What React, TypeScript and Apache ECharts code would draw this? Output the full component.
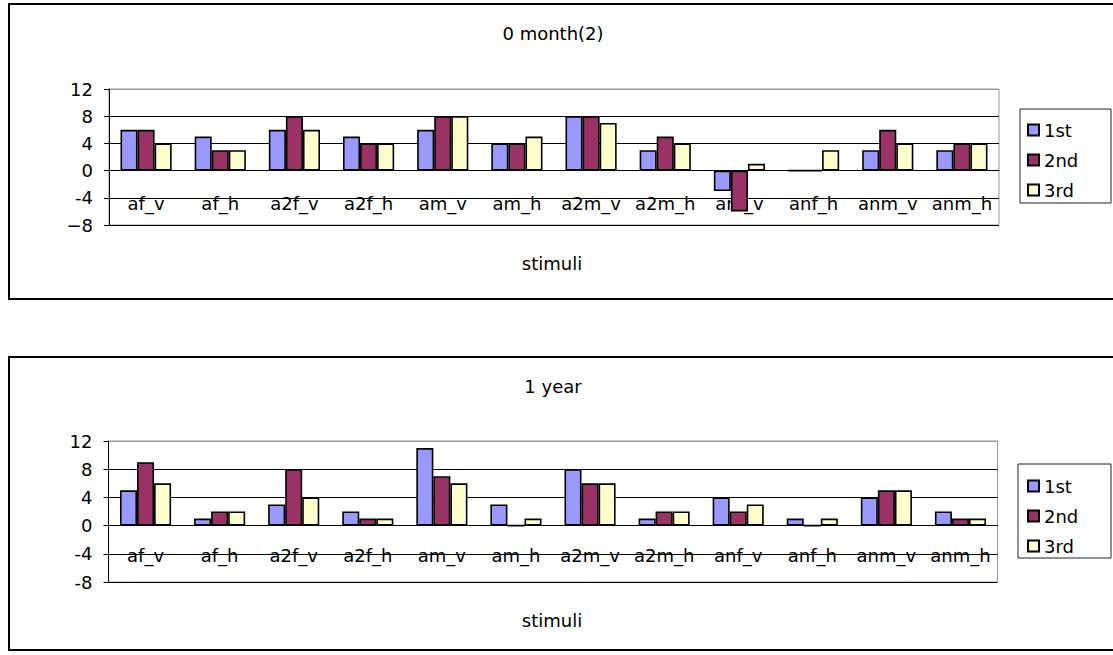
import React, { useEffect, useRef } from "react";
import * as echarts from "echarts";

const categories = ["af_v", "af_h", "a2f_v", "a2f_h", "am_v", "am_h", "a2m_v", "a2m_h", "anf_v", "anf_h", "anm_v", "anm_h"];
const seriesNames = ["1st", "2nd", "3rd"];
const month0First = [6, 5, 6, 5, 6, 4, 8, 3, -3, 0, 3, 3];
const month0Second = [6, 3, 8, 4, 8, 4, 8, 5, -6, 0, 6, 4];
const month0Third = [4, 3, 6, 4, 8, 5, 7, 4, 1, 3, 4, 4];
const year1First = [5, 1, 3, 2, 11, 3, 8, 1, 4, 1, 4, 2];
const year1Second = [9, 2, 8, 1, 7, 0, 6, 2, 2, 0, 5, 1];
const year1Third = [6, 2, 4, 1, 6, 1, 6, 2, 3, 1, 5, 1];
const titles = ["0 month(2)", "1 year"];
const xName = "stimuli";
const colors = ["#9999FF", "#993366", "#FFFFCC"];

const FONT = "DejaVu Sans";

export default function App() {
  const ref = useRef<HTMLDivElement>(null);
  useEffect(() => {
    if (!ref.current) return;
    const chart = echarts.init(ref.current, undefined, { renderer: "svg" });
    const grids = [
      { left: 109, top: 89, width: 890, height: 136 },
      { left: 108.5, top: 441, width: 889, height: 141 },
    ];
    const data = [
      [month0First, month0Second, month0Third],
      [year1First, year1Second, year1Third],
    ];
    const series: any[] = [];
    data.forEach((group, gi) => {
      group.forEach((vals, si) => {
        series.push({
          type: "bar",
          name: seriesNames[si],
          xAxisIndex: gi,
          yAxisIndex: gi,
          data: vals,
          barGap: "0%",
          barCategoryGap: "31%",
          itemStyle: { color: colors[si], borderColor: "#000", borderWidth: 1.6 },
        });
      });
    });
    const boxes = [
      { y: 4, h: 295 },
      { y: 357, h: 293 },
    ];
    const legendBoxes = [
      { x: 1020, y: 109, w: 91, h: 94 },
      { x: 1018, y: 464, w: 93, h: 94 },
    ];
    const titleY = [33, 386];
    const nameY = [263, 620];
    const legendTop = [120, 476];
    const labelMargin = [-31, -36];
    const graphic: any[] = [];
    boxes.forEach((b) =>
      graphic.push({
        type: "rect",
        shape: { x: 9, y: b.y, width: 1120, height: b.h },
        style: { fill: "none", stroke: "#000", lineWidth: 2 },
      })
    );
    legendBoxes.forEach((b) =>
      graphic.push({
        type: "rect",
        shape: { x: b.x, y: b.y, width: b.w, height: b.h },
        style: { fill: "#fff", stroke: "#222", lineWidth: 1 },
        z: -1,
      })
    );
    titles.forEach((t, i) => {
      graphic.push({
        type: "text",
        x: 553,
        y: titleY[i],
        style: { text: t, font: `18px '${FONT}'`, fill: "#000", align: "center", verticalAlign: "middle" },
      });
      graphic.push({
        type: "text",
        x: 552,
        y: nameY[i],
        style: { text: xName, font: `18px '${FONT}'`, fill: "#000", align: "center", verticalAlign: "middle" },
      });
    });
    const option: any = {
      animation: false,
      textStyle: { fontFamily: FONT },
      graphic,
      legend: legendTop.map((top) => ({
        data: seriesNames,
        orient: "vertical",
        left: 1027,
        top,
        padding: 0,
        itemGap: 10,
        itemWidth: 11,
        itemHeight: 11,
        icon: "rect",
        textStyle: { fontSize: 18, color: "#000", fontFamily: FONT, lineHeight: 20 },
      })),
      grid: grids.map((g) => ({ ...g, show: true, borderColor: "#999", borderWidth: 1, backgroundColor: "transparent" })),
      xAxis: grids.map((_, gi) => ({
        type: "category",
        gridIndex: gi,
        data: categories,
        axisLine: { onZero: true, lineStyle: { color: "#000", width: 1 } },
        axisTick: { inside: true, length: 5, lineStyle: { color: "#777" } },
        axisLabel: { interval: 0, margin: labelMargin[gi], fontSize: 18, color: "#000", fontFamily: FONT },
        splitLine: { show: false },
      })),
      yAxis: grids.map((_, gi) => ({
        type: "value",
        gridIndex: gi,
        min: -8,
        max: 12,
        interval: 4,
        axisLine: { show: true, lineStyle: { color: "#000", width: 1 } },
        axisTick: { show: true, length: 5, lineStyle: { color: "#000" } },
        axisLabel: {
          margin: 16,
          fontSize: 18,
          color: "#000",
          fontFamily: FONT,
          formatter: (v: number) => (gi === 0 && v === -8 ? "\u22128" : String(v)),
        },
        splitLine: { show: true, lineStyle: { color: ["#000", "#000", "#000", "#000", "#000", "#999"], width: 1 } },
      })),
      series,
    };
    chart.setOption(option);
    return () => chart.dispose();
  }, []);
  return <div ref={ref} style={{ position: "absolute", left: 0, top: 0, width: 1113, height: 655 }} />;
}
